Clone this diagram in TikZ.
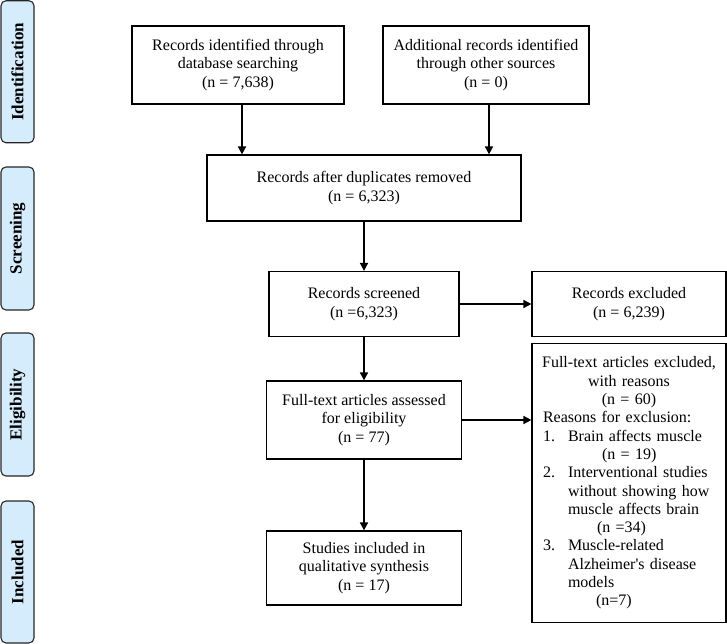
\documentclass[tikz,border=0pt]{standalone}
\usepackage{fontspec}
\setmainfont{Liberation Serif}
\usetikzlibrary{arrows.meta}
\definecolor{phasefill}{RGB}{213,236,253}
\begin{document}
\begin{tikzpicture}[x=1pt,y=-1pt,
  box/.style={draw=black, line width=1.2pt, fill=white, align=center, inner sep=2pt,
    font=\fontsize{16}{18.5}\selectfont},
  phase/.style={draw=black!85, line width=1.1pt, fill=phasefill, rounded corners=5pt,
    minimum width=33pt, inner sep=0pt},
  phasetext/.style={rotate=90, font=\fontsize{17}{20}\selectfont\bfseries},
  arr/.style={line width=1.6pt, -{Triangle[length=8pt,width=8pt]}}
]
\useasboundingbox (0,0) rectangle (727,644);
% phase boxes
\node[phase, minimum height=142pt] (p1) at (17.5,71.75) {};
\node[phasetext] (t1) at (p1) {Identification};
\node[phase, minimum height=143pt] (p2) at (17.5,238.5) {};
\node[phasetext] (t2) at (p2) {Screening};
\node[phase, minimum height=143pt] (p3) at (17.5,404.5) {};
\node[phasetext] (t3) at (p3) {Eligibility};
\node[phase, minimum height=142pt] (p4) at (17.5,572) {};
\node[phasetext] (t4) at (p4) {Included};
% main boxes
\node[box, minimum width=212pt, minimum height=78pt] (A) at (238,65)
  {Records identified through\\database searching\\(n = 7,638)};
\node[box, minimum width=206pt, minimum height=78pt] (B) at (486,65)
  {Additional records identified\\through other sources\\(n = 0)};
\node[box, minimum width=314pt, minimum height=66pt] (C) at (364,188)
  {Records after duplicates removed\\(n = 6,323)};
\node[box, minimum width=190pt, minimum height=65pt] (D) at (364,304)
  {Records screened\\(n =6,323)};
\node[box, minimum width=194pt, minimum height=65pt] (E) at (629,304)
  {Records excluded\\(n = 6,239)};
\node[box, minimum width=195pt, minimum height=78pt] (F) at (364,420)
  {Full-text articles assessed\\for eligibility\\(n = 77)};
\node[box, minimum height=279pt, text width=190pt, align=left,
      font=\fontsize{16}{18.3}\selectfont] (G) at (629,483)
  {{\centering Full-text articles excluded,\\with reasons\\(n = 60)\par}
   \raggedright
   \hspace*{9pt}Reasons for exclusion:\\
   \hspace*{9pt}\makebox[25pt][l]{1.}Brain affects muscle\\
   \hspace*{68pt}(n = 19)\\
   \hspace*{9pt}\makebox[25pt][l]{2.}Interventional studies\\
   \hspace*{34pt}without showing how\\
   \hspace*{34pt}muscle affects brain\\
   \hspace*{63pt}(n =34)\\
   \hspace*{9pt}\makebox[25pt][l]{3.}Muscle-related\\
   \hspace*{34pt}Alzheimer\textquotesingle s disease\\
   \hspace*{34pt}models\\
   \hspace*{62pt}(n=7)};
\node[box, minimum width=195pt, minimum height=74pt] (H) at (364,568)
  {Studies included in\\qualitative synthesis\\(n = 17)};
% connectors
\draw[arr] ([xshift=4pt]A.south) -- ([xshift=4pt]A.south |- C.north);
\draw[arr] ([xshift=3pt]B.south) -- ([xshift=3pt]B.south |- C.north);
\draw[arr] (C.south) -- (D.north);
\draw[arr] (D.east) -- (E.west);
\draw[arr] (D.south) -- (F.north);
\draw[arr] (F.east) -- (F.east -| G.west);
\draw[arr] (F.south) -- (H.north);
\end{tikzpicture}
\end{document}
